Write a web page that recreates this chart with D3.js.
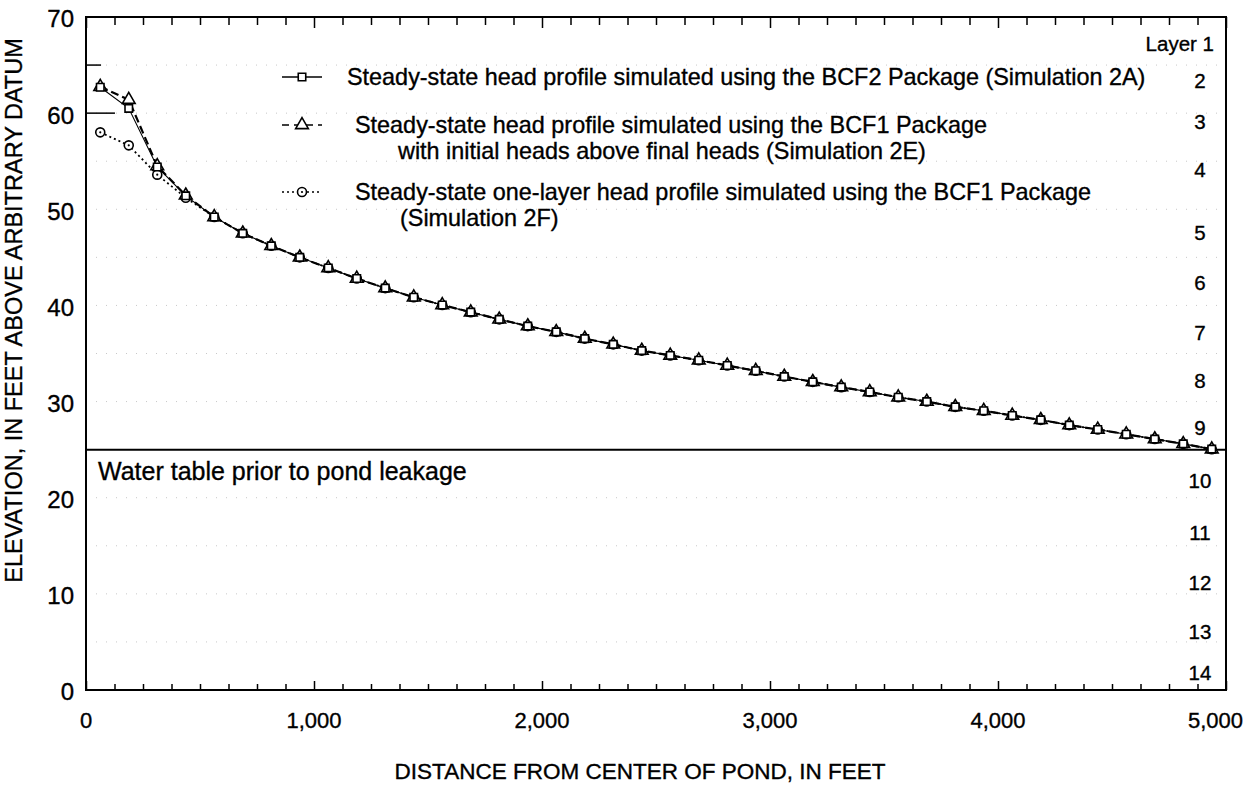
<!DOCTYPE html>
<html>
<head>
<meta charset="utf-8">
<script src="https://cdn.jsdelivr.net/npm/d3@7/dist/d3.min.js"></script>
<style>
    body { margin: 0; background: #fff; }
    text { font-family: "Liberation Sans", Arial, Helvetica, sans-serif; fill: #000; stroke: #000; stroke-width: 0.35px; }
</style>
</head>
<body>
<div id="chart-area"></div>
<script>

// distance of each model column centre from the pond centre, ft
var distance = [62.5, 187.5, 312.5, 437.5, 562.5, 687.5, 812.5, 937.5, 1062.5, 1187.5,
    1312.5, 1437.5, 1562.5, 1687.5, 1812.5, 1937.5, 2062.5, 2187.5, 2312.5, 2437.5,
    2562.5, 2687.5, 2812.5, 2937.5, 3062.5, 3187.5, 3312.5, 3437.5, 3562.5, 3687.5,
    3812.5, 3937.5, 4062.5, 4187.5, 4312.5, 4437.5, 4562.5, 4687.5, 4812.5, 4937.5];

// Simulation 2A (BCF2)
var headBCF2 = [62.7, 60.5, 54.4, 51.4, 49.2, 47.5, 46.2, 45.0, 43.9, 42.8,
    41.8, 40.85, 40.05, 39.3, 38.55, 37.85, 37.25, 36.55, 35.95, 35.3,
    34.8, 34.3, 33.75, 33.2, 32.6, 32.05, 31.5, 31.0, 30.45, 30.0,
    29.45, 29.05, 28.55, 28.1, 27.55, 27.1, 26.6, 26.1, 25.6, 25.05];

// Simulation 2E (BCF1, initial heads above final heads)
var headBCF1 = [62.75, 61.4, 54.5, 51.45, 49.2, 47.5, 46.2, 45.0, 43.9, 42.8,
    41.8, 40.85, 40.05, 39.3, 38.55, 37.85, 37.25, 36.55, 35.95, 35.3,
    34.8, 34.3, 33.75, 33.2, 32.6, 32.05, 31.5, 31.0, 30.45, 30.0,
    29.45, 29.05, 28.55, 28.1, 27.55, 27.1, 26.6, 26.1, 25.6, 25.05];

// Simulation 2F (one layer, BCF1)
var headOneLayer = [58.0, 56.65, 53.6, 51.2, 49.2, 47.5, 46.2, 45.0, 43.9, 42.8,
    41.8, 40.85, 40.05, 39.3, 38.55, 37.85, 37.25, 36.55, 35.95, 35.3,
    34.8, 34.3, 33.75, 33.2, 32.6, 32.05, 31.5, 31.0, 30.45, 30.0,
    29.45, 29.05, 28.55, 28.1, 27.55, 27.1, 26.6, 26.1, 25.6, 25.05];

var yTickValues = [0, 10, 20, 30, 40, 50, 60, 70];
var xTickLabels = [0, 1000, 2000, 3000, 4000, 5000];

var layerNames = ["Layer 1", "2", "3", "4", "5", "6", "7", "8", "9", "10", "11", "12", "13", "14"];
var layerLabelElev = [67.2, 63.4, 59.1, 54.1, 47.6, 42.4, 37.2, 32.2, 27.25, 21.8, 16.4, 11.1, 6.0, 1.8];
var layerBoundaries = [65, 60, 55, 50, 45, 40, 35, 30, 20, 15, 10, 5];

var waterTable = 25;
var pondElev = [65, 60];
var pondRadius = [66, 127];

var legendText = [
    ["Steady-state head profile simulated using the BCF2 Package (Simulation 2A)"],
    ["Steady-state head profile simulated using the BCF1 Package", "with initial heads above final heads (Simulation 2E)"],
    ["Steady-state one-layer head profile simulated using the BCF1 Package", "(Simulation 2F)"]
];

var margin = { top: 17, right: 19, bottom: 96, left: 86 },
    width = 1245 - margin.left - margin.right,
    height = 786 - margin.top - margin.bottom;

var svg = d3.select("#chart-area")
    .append("svg")
    .attr("width", width + margin.left + margin.right)
    .attr("height", height + margin.top + margin.bottom)
    .append("g")
    .attr("transform", "translate(" + margin.left + "," + margin.top + ")");

var xScale = d3.scaleLinear().domain([0, 5000]).range([0, width]);
var yScale = d3.scaleLinear().domain([0, 70]).range([height, 0]);

// faint dotted layer boundaries
svg.selectAll(".bound")
    .data(layerBoundaries)
    .enter().append("line")
    .attr("class", "bound")
    .attr("x1", 0)
    .attr("x2", width)
    .attr("y1", function(d) { return yScale(d); })
    .attr("y2", function(d) { return yScale(d); })
    .attr("stroke", "#c8c8c8")
    .attr("stroke-width", 1)
    .attr("stroke-dasharray", "1,9");

// pond outline marks on the left
pondElev.forEach(function(e, i) {
    svg.append("line")
        .attr("x1", 0)
        .attr("x2", xScale(pondRadius[i]))
        .attr("y1", yScale(e))
        .attr("y2", yScale(e))
        .attr("stroke", "black")
        .attr("stroke-width", 1.5);
});

// water table
svg.append("line")
    .attr("x1", 0)
    .attr("x2", width)
    .attr("y1", yScale(waterTable))
    .attr("y2", yScale(waterTable))
    .attr("stroke", "black")
    .attr("stroke-width", 2);

svg.append("text")
    .attr("x", 12)
    .attr("y", yScale(waterTable) + 22)
    .attr("dy", "0.35em")
    .style("font-size", "25px")
    .text("Water table prior to pond leakage");

// axes ticks (inward) on bottom and top
var minorTicks = d3.range(0, 5001, 125);

var bottomAxis = d3.axisBottom(xScale)
    .tickValues(minorTicks)
    .tickSize(-6)
    .tickFormat("");
svg.append("g")
    .attr("transform", "translate(0," + height + ")")
    .call(bottomAxis)
    .call(function(g) { g.select(".domain").remove(); })
    .selectAll("line")
    .attr("stroke-width", 1.5)
    .attr("y2", function(d) { return d % 1000 === 0 ? -9 : -6; });

var topAxis = d3.axisTop(xScale)
    .tickValues(minorTicks)
    .tickSize(-8)
    .tickFormat("");
svg.append("g")
    .call(topAxis)
    .call(function(g) { g.select(".domain").remove(); })
    .selectAll("line")
    .attr("stroke-width", 1.5)
    .attr("y2", function(d) { return d % 1000 === 0 ? 11 : 8; });

// tick labels
svg.selectAll(".xlab")
    .data(xTickLabels)
    .enter().append("text")
    .attr("class", "xlab")
    .attr("x", function(d, i) { return i === xTickLabels.length - 1 ? width + 17 : xScale(d); })
    .attr("y", height + 30)
    .attr("dy", "0.35em")
    .attr("text-anchor", function(d, i) { return i === xTickLabels.length - 1 ? "end" : "middle"; })
    .style("font-size", "22px")
    .text(function(d) { return d3.format(",")(d); });

svg.selectAll(".ylab")
    .data(yTickValues)
    .enter().append("text")
    .attr("class", "ylab")
    .attr("x", -12)
    .attr("y", function(d) { return yScale(d) + 2; })
    .attr("dy", "0.35em")
    .attr("text-anchor", "end")
    .style("font-size", "24px")
    .text(function(d) { return d; });

// axis titles
svg.append("text")
    .attr("x", width / 2 - 16)
    .attr("y", height + 81)
    .attr("dy", "0.35em")
    .attr("text-anchor", "middle")
    .style("font-size", "22.5px")
    .text("DISTANCE FROM CENTER OF POND, IN FEET");

svg.append("text")
    .attr("transform", "rotate(-90)")
    .attr("x", -(yScale(35) - 43))
    .attr("y", -72)
    .attr("dy", "0.35em")
    .attr("text-anchor", "middle")
    .style("font-size", "23.5px")
    .text("ELEVATION, IN FEET ABOVE ARBITRARY DATUM");

// layer numbers
svg.selectAll(".layer")
    .data(layerNames)
    .enter().append("text")
    .attr("class", "layer")
    .attr("x", function(d, i) { return i === 0 ? 1128 : 1114; })
    .attr("y", function(d, i) { return yScale(layerLabelElev[i]); })
    .attr("dy", "0.35em")
    .attr("text-anchor", function(d, i) { return i === 0 ? "end" : "middle"; })
    .style("font-size", "20.5px")
    .text(function(d) { return d; });

// profile lines
var series = [
    { values: headOneLayer, dash: "2,3", width: 1.8, marker: "circle" },
    { values: headBCF1, dash: "8,4", width: 2.2, marker: "triangle" },
    { values: headBCF2, dash: null, width: 1.1, marker: "square" }
];

var line = d3.line()
    .x(function(d) { return xScale(d[0]); })
    .y(function(d) { return yScale(d[1]); });

series.forEach(function(s) {
    var pts = distance.map(function(x, i) { return [x, s.values[i]]; });
    svg.append("path")
        .datum(pts)
        .attr("fill", "none")
        .attr("stroke", "black")
        .attr("stroke-width", s.width)
        .attr("stroke-dasharray", s.dash)
        .attr("d", line);
});

function drawMarker(g, type, cx, cy) {
    if (type === "circle") {
        g.append("circle").attr("cx", cx).attr("cy", cy).attr("r", 4.5)
            .attr("fill", "white").attr("stroke", "black").attr("stroke-width", 1.6);
        g.append("circle").attr("cx", cx).attr("cy", cy).attr("r", 1.1).attr("fill", "black");
    } else {
        var sym = type === "square" ? d3.symbolSquare : d3.symbolTriangle;
        var size = type === "square" ? 56 : 70;
        g.append("path")
            .attr("transform", "translate(" + cx + "," + cy + ")")
            .attr("d", d3.symbol().type(sym).size(size)())
            .attr("fill", "white")
            .attr("stroke", "black")
            .attr("stroke-width", 1.6);
    }
}

var markers = svg.append("g");
series.forEach(function(s) {
    distance.forEach(function(x, i) {
        drawMarker(markers, s.marker, xScale(x), yScale(s.values[i]));
    });
});

// legend
var legendRows = [
    { y: 60, textX: 261, dash: null, marker: "square" },
    { y: 108, textX: 269, dash: "7,5", marker: "triangle" },
    { y: 175, textX: 269, dash: "2,3", marker: "circle" }
];
var contX = [0, 312, 314];

legendRows.forEach(function(r, i) {
    var lg = svg.append("g");
    lg.append("line")
        .attr("x1", 196).attr("x2", 236)
        .attr("y1", r.y).attr("y2", r.y)
        .attr("stroke", "black")
        .attr("stroke-width", 1.6)
        .attr("stroke-dasharray", r.dash);
    drawMarker(lg, r.marker, 216, r.y);
    legendText[i].forEach(function(t, j) {
        lg.append("text")
            .attr("x", j === 0 ? r.textX : contX[i])
            .attr("y", r.y + j * 26)
            .attr("dy", "0.35em")
            .style("font-size", "23.4px")
            .text(t);
    });
});

// frame
svg.append("rect")
    .attr("width", width)
    .attr("height", height)
    .attr("fill", "none")
    .attr("stroke", "black")
    .attr("stroke-width", 2);

</script>
</body>
</html>
